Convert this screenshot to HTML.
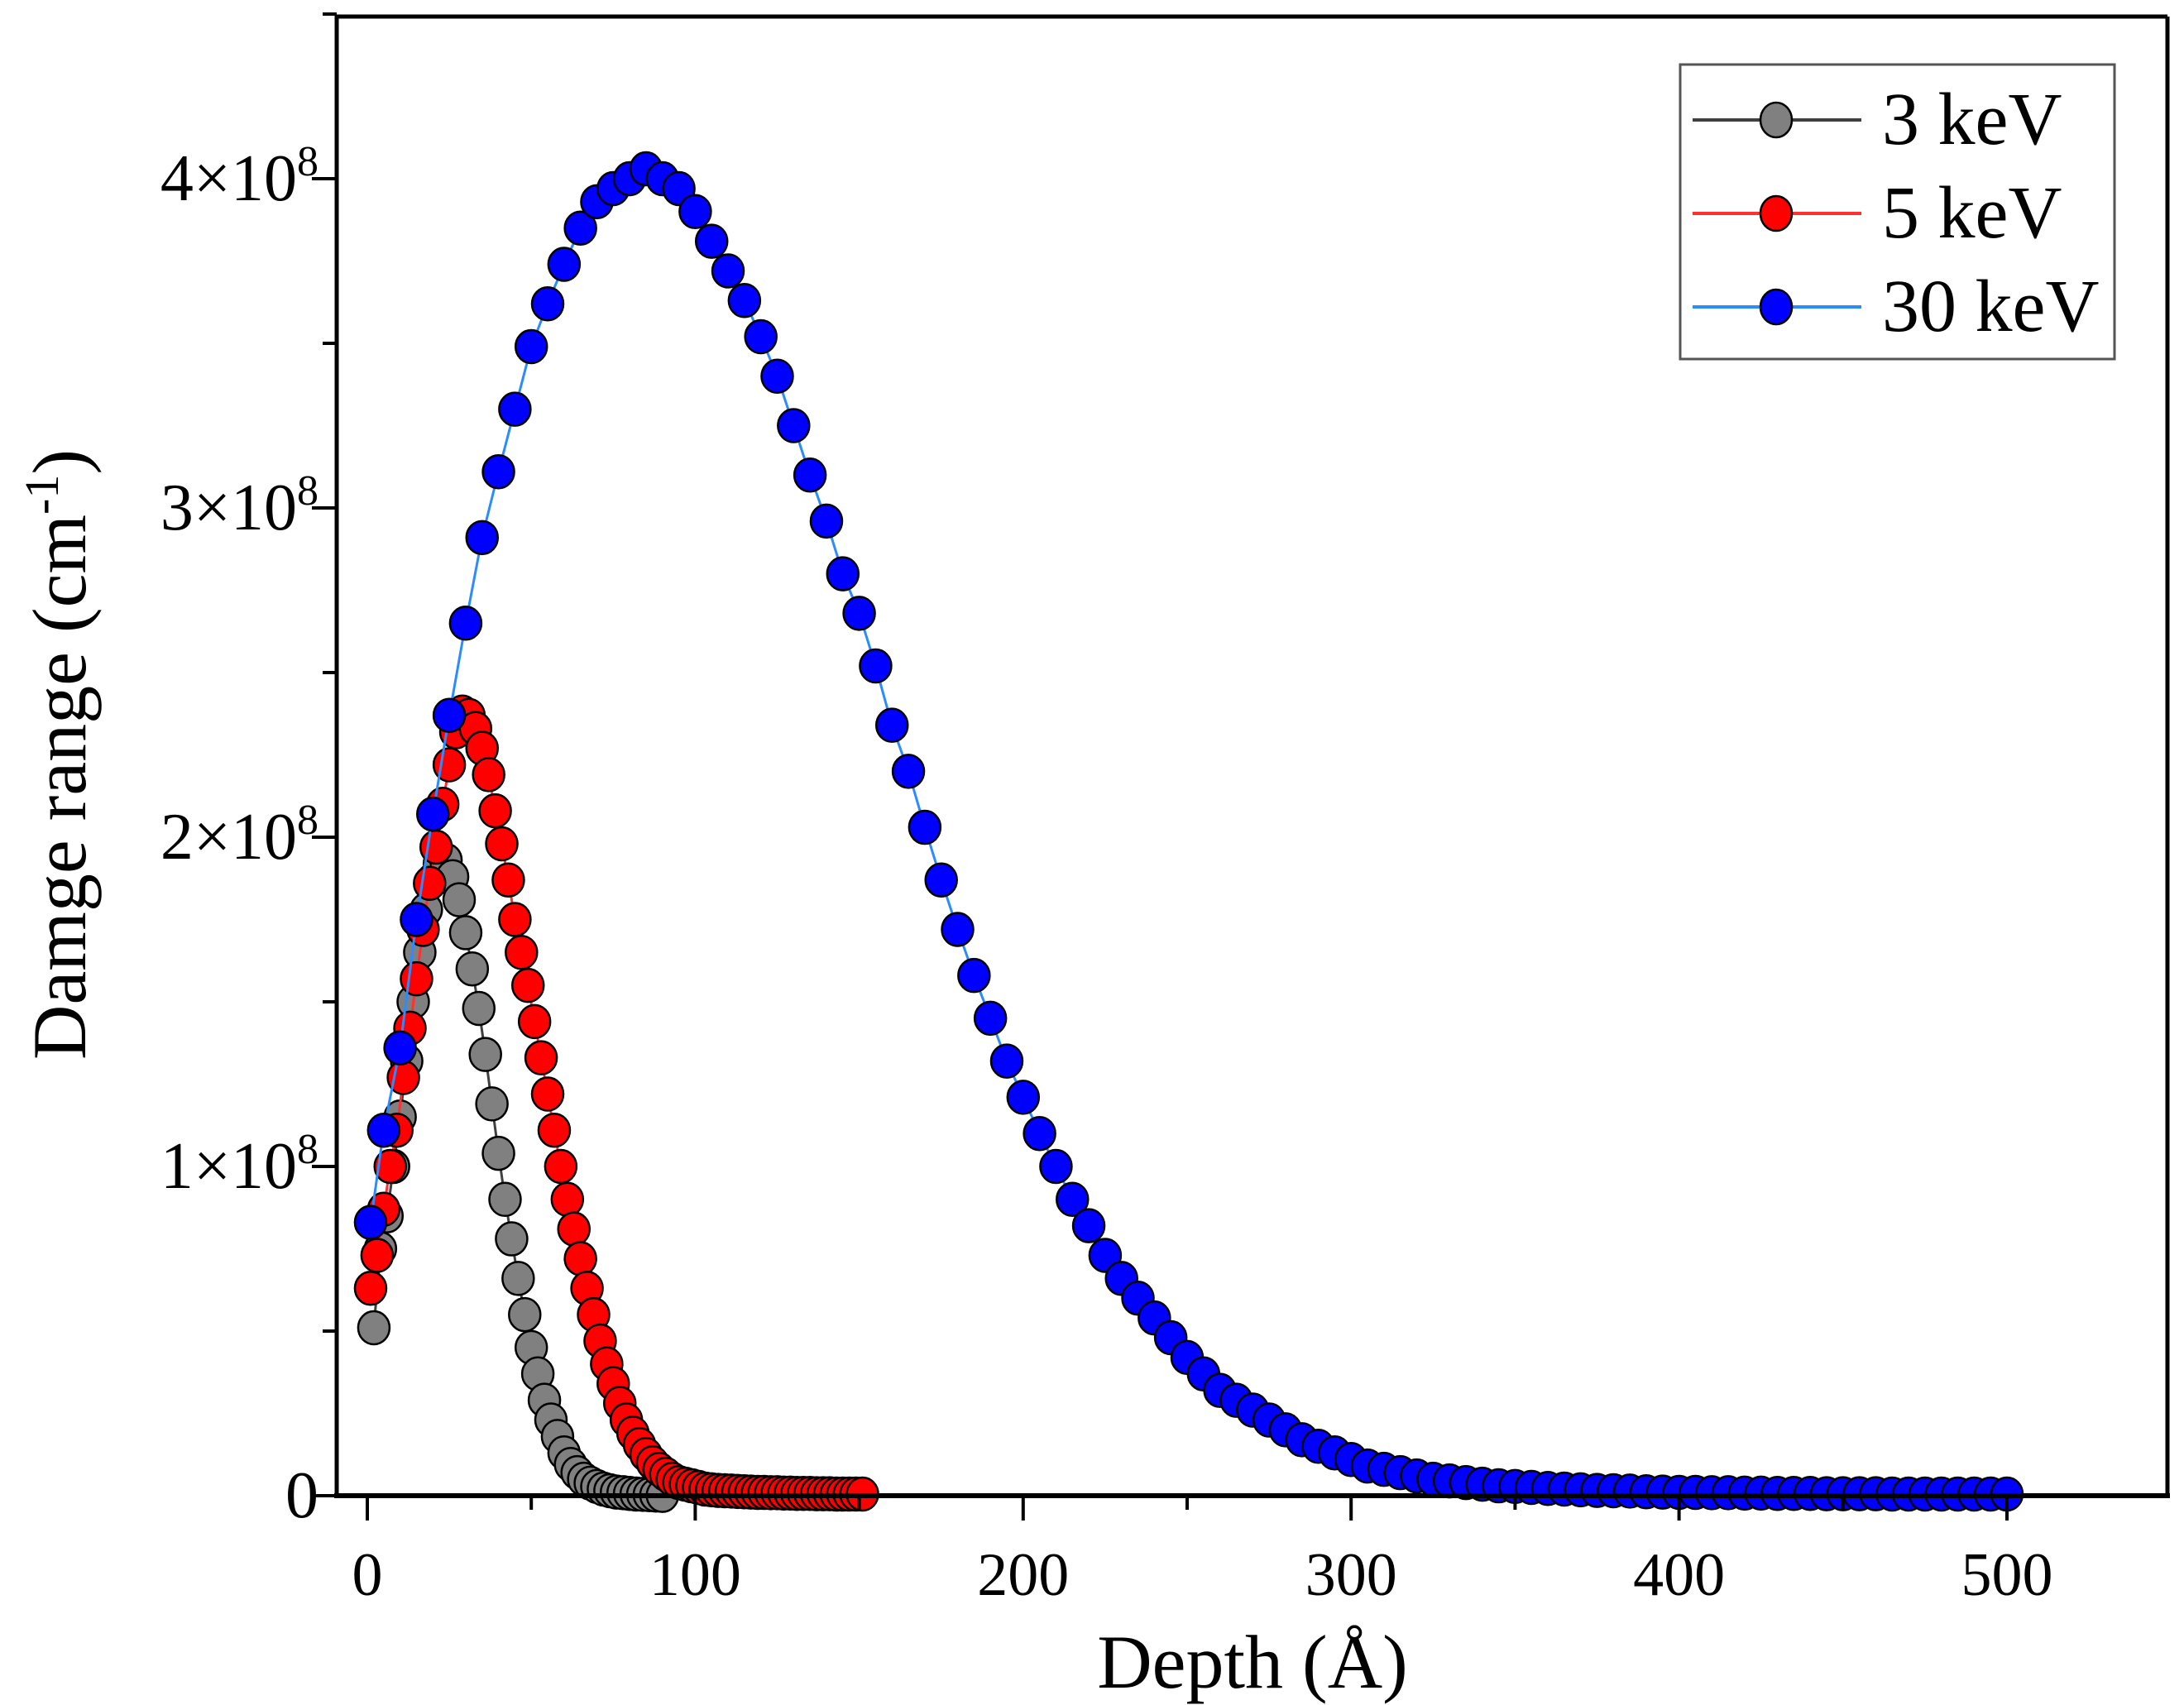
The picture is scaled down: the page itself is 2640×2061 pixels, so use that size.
<!DOCTYPE html>
<html><head><meta charset="utf-8"><style>
html,body{margin:0;padding:0;background:#fff;}
svg{display:block;font-family:"Liberation Serif",serif;}
</style></head><body>
<svg id="chart" width="2640" height="2061" viewBox="0 0 2640 2061" xmlns="http://www.w3.org/2000/svg">
<g id="series"></g>
<g id="axes"></g>
<g id="legend">
  <rect x="2031" y="78" width="525" height="356" fill="#fff" stroke="#555" stroke-width="3"/>
</g>
</svg>
<script>
const xTicks=[0,100,200,300,400,500];
const yTicks=[0,1,2,3,4];
const seriesNames=["3 keV","5 keV","30 keV"];
const x3=[2,4,6,8,10,12,14,16,18,20,22,24,26,28,30,32,34,36,38,40,42,44,46,48,50,52,54,56,58,60,62,64,66,68,70,72,74,76,78,80,82,84,86,88,90];
const y3=[0.51,0.75,0.85,1.00,1.15,1.32,1.50,1.65,1.78,1.87,1.92,1.93,1.88,1.81,1.71,1.60,1.48,1.34,1.19,1.04,0.90,0.78,0.66,0.55,0.45,0.37,0.29,0.23,0.18,0.13,0.095,0.07,0.05,0.038,0.028,0.02,0.015,0.011,0.009,0.007,0.005,0.004,0.003,0.002,0.001];
const x5=[1,3,5,7,9,11,13,15,17,19,21,23,25,27,29,31,33,35,37,39,41,43,45,47,49,51,53,55,57,59,61,63,65,67,69,71,73,75,77,79,81,83,85,87,89,91,93,95,97,99,101,103,105,107,109,111,113,115,117,119,121,123,125,127,129,131,133,135,137,139,141,143,145,147,149,151];
const y5=[0.63,0.73,0.87,1.00,1.11,1.27,1.42,1.57,1.72,1.86,1.97,2.10,2.22,2.32,2.38,2.37,2.33,2.27,2.19,2.08,1.98,1.87,1.75,1.65,1.55,1.44,1.33,1.22,1.11,1.00,0.90,0.81,0.72,0.63,0.55,0.47,0.40,0.34,0.28,0.23,0.19,0.155,0.125,0.10,0.08,0.065,0.05,0.04,0.035,0.03,0.025,0.02,0.018,0.016,0.015,0.014,0.013,0.012,0.011,0.010,0.010,0.009,0.009,0.008,0.008,0.007,0.007,0.007,0.006,0.006,0.006,0.005,0.005,0.005,0.005,0.005];
const x30=[1,5,10,15,20,25,30,35,40,45,50,55,60,65,70,75,80,85,90,95,100,105,110,115,120,125,130,135,140,145,150,155,160,165,170,175,180,185,190,195,200,205,210,215,220,225,230,235,240,245,250,255,260,265,270,275,280,285,290,295,300,305,310,315,320,325,330,335,340,345,350,355,360,365,370,375,380,385,390,395,400,405,410,415,420,425,430,435,440,445,450,455,460,465,470,475,480,485,490,495,500];
const y30=[0.83,1.11,1.36,1.75,2.07,2.37,2.65,2.91,3.11,3.30,3.49,3.62,3.74,3.85,3.93,3.97,4.00,4.03,4.00,3.97,3.90,3.81,3.72,3.63,3.52,3.40,3.25,3.10,2.96,2.80,2.68,2.52,2.34,2.20,2.03,1.87,1.72,1.58,1.45,1.32,1.21,1.10,1.00,0.90,0.82,0.73,0.66,0.60,0.54,0.48,0.42,0.37,0.32,0.29,0.26,0.23,0.20,0.17,0.15,0.13,0.11,0.09,0.08,0.07,0.06,0.05,0.045,0.04,0.035,0.03,0.028,0.025,0.022,0.02,0.018,0.016,0.015,0.014,0.012,0.011,0.010,0.010,0.009,0.009,0.008,0.008,0.007,0.007,0.007,0.006,0.006,0.006,0.006,0.005,0.005,0.005,0.005,0.005,0.005,0.005,0.005];

const NS="http://www.w3.org/2000/svg";
const L=407,R=2620,T=20,B=1808;
const X0=444,XS=3.964;
const Y0=1808,YS=398;
function xp(v){return X0+v*XS;}
function yp(v){return Y0-v*YS;}
function mk(tag,attrs,parent){const e=document.createElementNS(NS,tag);for(const k in attrs)e.setAttribute(k,attrs[k]);parent.appendChild(e);return e;}

const gS=document.getElementById('series');
const defs=[[x3,y3,"#808080","#404040","series-3kev"],[x5,y5,"#ff0000","#ff3030","series-5kev"],[x30,y30,"#0000ff","#2a8cff","series-30kev"]];
defs.forEach(d=>{
  const g=mk('g',{},gS);
  
  
  const pts=d[0].map((x,i)=>xp(x).toFixed(1)+","+yp(d[1][i]).toFixed(1)).join(" ");
  const pl=mk('polyline',{points:pts,fill:"none",stroke:d[3],"stroke-width":3},g);
  
  
  d[0].forEach((x,i)=>{
    const c=mk('ellipse',{cx:xp(x),cy:yp(d[1][i]),rx:19,ry:20,fill:d[2],stroke:"#000","stroke-width":2.5},g);
    
    
  });
});

const gA=document.getElementById('axes');
mk('line',{x1:L,y1:T,x2:R,y2:T,stroke:"#000","stroke-width":5},gA);
mk('line',{x1:R,y1:T,x2:R,y2:B,stroke:"#000","stroke-width":5},gA);
const yAx=mk('line',{x1:L,y1:T-2,x2:L,y2:B+3,stroke:"#000","stroke-width":5},gA);


const xAx=mk('line',{x1:L-3,y1:B,x2:R+3,y2:B,stroke:"#000","stroke-width":6},gA);


xTicks.forEach(v=>{
  mk('line',{x1:xp(v),y1:B,x2:xp(v),y2:B+30,stroke:"#000","stroke-width":4},gA);
  const t=mk('text',{x:xp(v),y:1928,"font-size":74,"text-anchor":"middle",fill:"#000"},gA);
  t.textContent=v;
  
  
});
xTicks.forEach(v=>{const m=v+50;if(xp(m)<R)mk('line',{x1:xp(m),y1:B,x2:xp(m),y2:B+17,stroke:"#000","stroke-width":4},gA);});
yTicks.forEach(v=>{
  mk('line',{x1:L-30,y1:yp(v),x2:L,y2:yp(v),stroke:"#000","stroke-width":4},gA);
  if(v+0.5<=4.5)mk('line',{x1:L-17,y1:yp(v+0.5),x2:L,y2:yp(v+0.5),stroke:"#000","stroke-width":4},gA);
  const t=mk('text',{x:385,y:yp(v)+26,"font-size":80,"text-anchor":"end",fill:"#000"},gA);
  
  
  if(v===0){t.textContent="0";}
  else{
    t.textContent=v+"\u00d710";
    const s=mk('tspan',{dy:-30,"font-size":52},t);s.textContent="8";
  }
});
const xt=mk('text',{x:1514,y:2040,"font-size":92,"text-anchor":"middle",fill:"#000"},gA);
xt.textContent="Depth (\u00c5)";


const yt=mk('text',{x:0,y:0,"font-size":92,"text-anchor":"middle",fill:"#000",transform:"translate(103,912) rotate(-90)"},gA);


yt.appendChild(document.createTextNode("Damge range (cm"));
const sup=mk('tspan',{dy:-33,"font-size":58},yt);sup.textContent="-1";
const cl=mk('tspan',{dy:33},yt);cl.textContent=")";

const gL=document.getElementById('legend');
const legY=[145,258,371];
defs.forEach((d,i)=>{
  const g=mk('g',{},gL);
  
  
  mk('line',{x1:2046,y1:legY[i],x2:2250,y2:legY[i],stroke:d[3],"stroke-width":4},g);
  mk('ellipse',{cx:2147,cy:legY[i],rx:19,ry:21,fill:d[2],stroke:"#000","stroke-width":2.5},g);
  const t=mk('text',{x:2275,y:legY[i]+29,"font-size":90,fill:"#000"},g);
  t.textContent=seriesNames[i];
});
</script>
</body></html>
